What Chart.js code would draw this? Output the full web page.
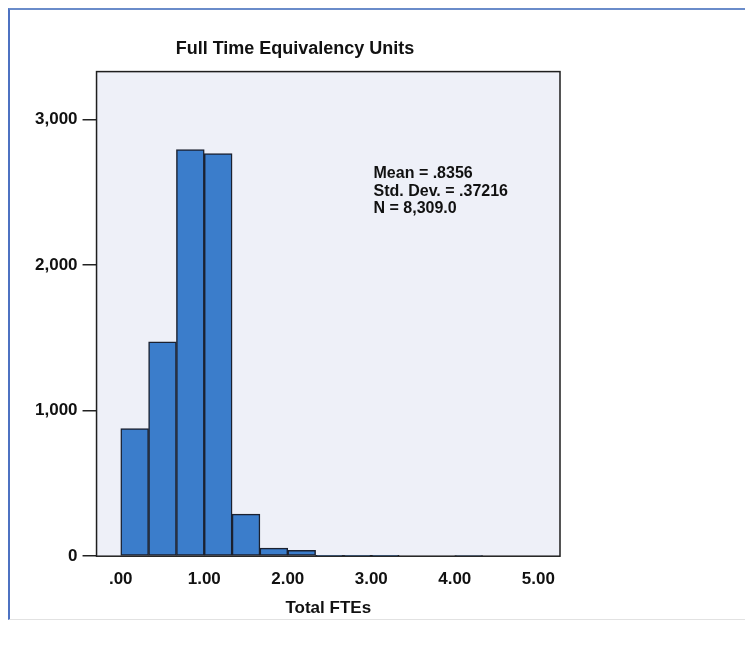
<!DOCTYPE html>
<html>
<head>
<meta charset="utf-8">
<script src="https://cdn.jsdelivr.net/npm/chart.js@4"></script>
<style>
  body { margin: 0; background: #fff; width: 745px; height: 646px; overflow: hidden; }
  #frame {
    position: absolute; left: 8px; top: 8px; width: 745px; height: 609px;
    border-left: 2px solid #4d72c2; border-top: 2px solid #6a8cca;
    border-bottom: 1px solid #e2e2e2;
  }
  #wrap { position: absolute; left: 10px; top: 30px; width: 580px; height: 600px; }
</style>
</head>
<body>
<div id="frame"></div>
<div id="wrap"><canvas id="histChart"></canvas></div>
<script>
// histogram bins (centres, width 1/3) and counts
const binCenters = [0.1667, 0.5, 0.8333, 1.1667, 1.5, 1.8333, 2.1667, 2.5, 2.8333, 3.1667, 3.5, 3.8333, 4.1667];
const counts = [877, 1473, 2794, 2767, 289, 55, 41, 3, 3, 2, 0, 0, 5];

const xTickValues = [0, 1, 2, 3, 4, 5];
const xTickLabels = ['.00', '1.00', '2.00', '3.00', '4.00', '5.00'];
const yTickValues = [0, 1000, 2000, 3000];
const yTickLabels = ['0', '1,000', '2,000', '3,000'];

const statsLines = ['Mean = .8356', 'Std. Dev. = .37216', 'N = 8,309.0'];

const font = "'Liberation Sans', Arial, sans-serif";

const plotBox = {
    id: 'plotBox',
    beforeDraw(chart) {
        const a = chart.chartArea, c = chart.ctx;
        c.save();
        c.fillStyle = '#eef0f8';
        c.fillRect(a.left, a.top, a.right - a.left, a.bottom - a.top);
        c.restore();
    },
    afterDraw(chart) {
        const a = chart.chartArea, c = chart.ctx;
        c.save();
        c.strokeStyle = '#1e1e1e';
        c.lineWidth = 1.5;
        c.strokeRect(a.left, a.top, a.right - a.left, a.bottom - a.top);
        // stats box text
        c.fillStyle = '#111';
        c.font = 'bold 16px ' + font;
        c.textBaseline = 'top';
        statsLines.forEach(function (s, i) {
            c.fillText(s, a.left + 277, a.top + 94 + i * 17.5);
        });
        c.restore();
    }
};

const ctx = document.getElementById('histChart').getContext('2d');

new Chart(ctx, {
    type: 'bar',
    data: {
        datasets: [{
            data: binCenters.map((x, i) => ({ x: x, y: counts[i] })),
            backgroundColor: '#3b7dcb',
            borderColor: '#1b2130',
            borderWidth: 1.5,
            borderSkipped: false,
            barPercentage: 1,
            categoryPercentage: 1,
            grouped: false
        }]
    },
    options: {
        responsive: true,
        maintainAspectRatio: false,
        animation: false,
        layout: { padding: { left: 20, right: 30, top: 4, bottom: 11 } },
        scales: {
            x: {
                type: 'linear',
                offset: false,
                min: -0.29,
                max: 5.26,
                afterBuildTicks: function (scale) {
                    scale.ticks = xTickValues.map(v => ({ value: v }));
                },
                ticks: {
                    autoSkip: false,
                    maxRotation: 0,
                    padding: 5,
                    color: '#111',
                    font: { family: font, size: 17, weight: 'bold' },
                    callback: function (v) {
                        const i = xTickValues.indexOf(v);
                        return i >= 0 ? xTickLabels[i] : '';
                    }
                },
                grid: { display: false },
                border: { display: false },
                title: {
                    display: true,
                    text: 'Total FTEs',
                    color: '#111',
                    padding: { top: 4, bottom: 0 },
                    font: { family: font, size: 17, weight: 'bold' }
                }
            },
            y: {
                min: 0,
                max: 3330,
                afterBuildTicks: function (scale) {
                    scale.ticks = yTickValues.map(v => ({ value: v }));
                },
                ticks: {
                    padding: 5,
                    color: '#111',
                    font: { family: font, size: 17, weight: 'bold' },
                    callback: function (v) {
                        const i = yTickValues.indexOf(v);
                        return i >= 0 ? yTickLabels[i] : '';
                    }
                },
                grid: {
                    drawOnChartArea: false,
                    drawTicks: true,
                    tickLength: 14,
                    color: '#222',
                    lineWidth: 1.5
                },
                border: { display: false }
            }
        },
        plugins: {
            legend: { display: false },
            tooltip: { enabled: false },
            title: {
                display: true,
                text: 'Full Time Equivalency Units',
                color: '#111',
                padding: { top: 4, bottom: 12 },
                font: { family: font, size: 18, weight: 'bold' }
            }
        }
    },
    plugins: [plotBox]
});
</script>
</body>
</html>
